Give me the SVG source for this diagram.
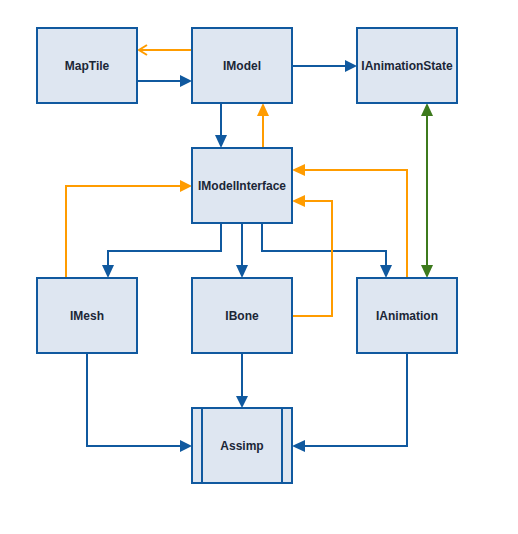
<svg xmlns="http://www.w3.org/2000/svg" width="518" height="534" viewBox="0 0 518 534">
<style>
.n{fill:#dee6f1;stroke:#10599f;stroke-width:2}
.t{font-family:"Liberation Sans",Arial,sans-serif;font-size:12px;font-weight:bold;fill:#1b2637;text-anchor:middle;dominant-baseline:central}
.b{fill:none;stroke:#10599f;stroke-width:2}
.o{fill:none;stroke:#ff9c00;stroke-width:2}
.g{fill:none;stroke:#3d7a1d;stroke-width:2}
.hb{fill:#10599f}
.ho{fill:#ff9c00}
.hg{fill:#3d7a1d}
</style>
<g id="connectors">
<path class="o" d="M192,50H139"/>
<path class="o" d="M147,45L139,50L147,55"/>
<path class="b" d="M137,81H181"/>
<path class="hb" d="M180,75L192,81L180,87z"/>
<path class="b" d="M221,103V136"/>
<path class="hb" d="M215,135L221,148L227,135z"/>
<path class="o" d="M263,148V115"/>
<path class="ho" d="M257,116L263,103L269,116z"/>
<path class="b" d="M292,66H346"/>
<path class="hb" d="M345,60L357,66L345,72z"/>
<path class="g" d="M427,115V266"/>
<path class="hg" d="M421,116L427,103L433,116z"/>
<path class="hg" d="M421,265L427,278L433,265z"/>
<path class="o" d="M66,278V186H181"/>
<path class="ho" d="M180,180L192,186L180,192z"/>
<path class="b" d="M221,223V251H108V266"/>
<path class="hb" d="M102,265L108,278L114,265z"/>
<path class="b" d="M242,223V266"/>
<path class="hb" d="M236,265L242,278L248,265z"/>
<path class="b" d="M262,223V251H386V266"/>
<path class="hb" d="M380,265L386,278L392,265z"/>
<path class="o" d="M407,278V170H304"/>
<path class="ho" d="M305,164L292,170L305,176z"/>
<path class="o" d="M292,316H332V201H304"/>
<path class="ho" d="M305,195L292,201L305,207z"/>
<path class="b" d="M87,353V446H181"/>
<path class="hb" d="M180,440L192,446L180,452z"/>
<path class="b" d="M242,353V397"/>
<path class="hb" d="M236,396L242,408L248,396z"/>
<path class="b" d="M407,353V446H304"/>
<path class="hb" d="M305,440L292,446L305,452z"/>
</g>
<g id="MapTile"><rect class="n" x="37" y="28" width="100" height="75"/><text class="t" x="87" y="65.5">MapTile</text></g>
<g id="IModel"><rect class="n" x="192" y="28" width="100" height="75"/><text class="t" x="242" y="65.5">IModel</text></g>
<g id="IAnimationState"><rect class="n" x="357" y="28" width="100" height="75"/><text class="t" x="407" y="65.5">IAnimationState</text></g>
<g id="IModelInterface"><rect class="n" x="192" y="148" width="100" height="75"/><text class="t" x="242" y="185.5">IModelInterface</text></g>
<g id="IMesh"><rect class="n" x="37" y="278" width="100" height="75"/><text class="t" x="87" y="315.5">IMesh</text></g>
<g id="IBone"><rect class="n" x="192" y="278" width="100" height="75"/><text class="t" x="242" y="315.5">IBone</text></g>
<g id="IAnimation"><rect class="n" x="357" y="278" width="100" height="75"/><text class="t" x="407" y="315.5">IAnimation</text></g>
<g id="Assimp"><rect class="n" x="192" y="408" width="100" height="75"/><path d="M202,408V483M282,408V483" class="b"/><text class="t" x="242" y="445.5">Assimp</text></g>
</svg>
